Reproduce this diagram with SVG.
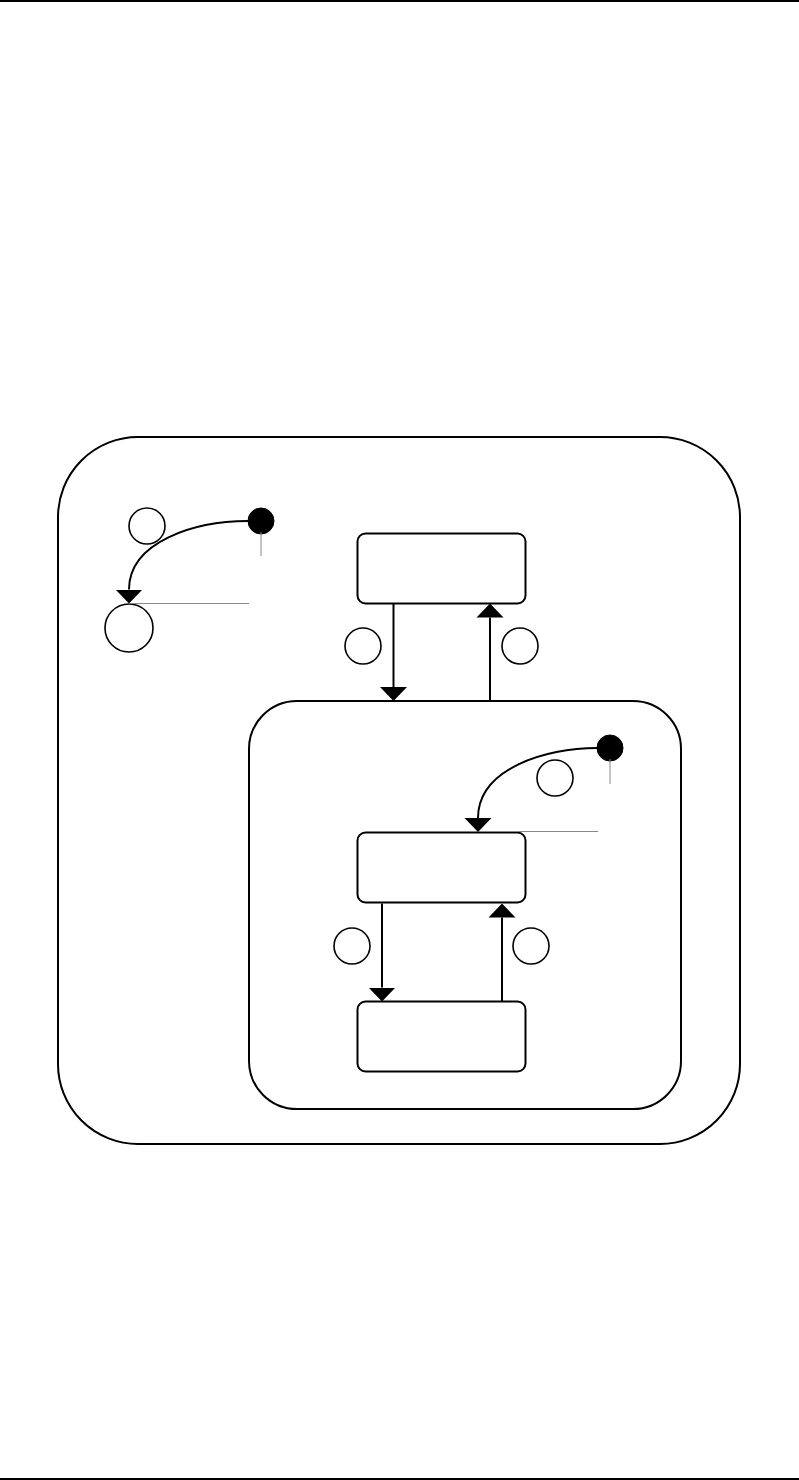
<svg xmlns="http://www.w3.org/2000/svg" width="799" height="1480" viewBox="0 0 799 1480">
<style>
.st{fill:#fff;stroke:#000;stroke-width:2}
.ol{fill:none;stroke:#000;stroke-width:2}
.lb{fill:#fff;stroke:#000;stroke-width:1.6}
.gl{fill:none;stroke:#888;stroke-width:1}
.init{fill:#000;stroke:#000;stroke-width:1}
.cn{fill:none;stroke:#000;stroke-width:2}
.pg{stroke:#000;stroke-width:2}
</style>
<defs>
<marker id="ah" markerUnits="userSpaceOnUse" viewBox="0 -14 14 28" refX="0" refY="0" markerWidth="14" markerHeight="28" orient="auto">
<path d="M0,-13.5 L14,0 L0,13.5 z" fill="#000"/>
</marker>
</defs>
<rect width="799" height="1480" fill="#fff"/>
<line class="pg" x1="0" y1="1" x2="799" y2="1"/>
<line class="pg" x1="0" y1="1479" x2="799" y2="1479"/>
<g id="outer-state"><rect class="ol" x="58" y="437" width="682" height="707" rx="80" ry="80"/></g>
<g id="inner-state"><rect class="st" x="249" y="701" width="432" height="408" rx="48" ry="48"/></g>
<g id="state-top"><rect class="st" x="357.5" y="533.5" width="168" height="70" rx="8" ry="8"/></g>
<g id="state-mid"><rect class="st" x="357.5" y="832.5" width="168" height="70" rx="8" ry="8"/></g>
<g id="state-bottom"><rect class="st" x="357.5" y="1001.5" width="168" height="70" rx="8" ry="8"/></g>
<g id="initial-outer"><circle class="init" cx="261" cy="521" r="13"/><line class="gl" x1="261" y1="532" x2="261" y2="556"/></g>
<g id="final-outer"><circle class="lb" cx="129" cy="628" r="24"/></g>
<g id="initial-inner"><circle class="init" cx="610" cy="748" r="13"/><line class="gl" x1="610" y1="759" x2="610" y2="784"/></g>
<g id="labels">
<circle class="lb" cx="147" cy="526" r="18"/>
<circle class="lb" cx="363" cy="646" r="18"/>
<circle class="lb" cx="520" cy="646" r="18"/>
<circle class="lb" cx="555" cy="778" r="18"/>
<circle class="lb" cx="352" cy="946" r="18"/>
<circle class="lb" cx="531" cy="946" r="18"/>
</g>
<g id="connectors">
<line class="gl" x1="129" y1="603.5" x2="249" y2="603.5"/>
<line class="gl" x1="478" y1="831.5" x2="598" y2="831.5"/>
<path class="cn" d="M248,521 C196,521 129,541 129,589.5" marker-end="url(#ah)"/>
<path class="cn" d="M597,748 C545,748 478,769 478,818" marker-end="url(#ah)"/>
<path class="cn" d="M393.5,603.5 L393.5,687" marker-end="url(#ah)"/>
<path class="cn" d="M490,701 L490,617.5" marker-end="url(#ah)"/>
<path class="cn" d="M382,903.5 L382,987.5" marker-end="url(#ah)"/>
<path class="cn" d="M502,1001.5 L502,917.5" marker-end="url(#ah)"/>
</g>
</svg>
